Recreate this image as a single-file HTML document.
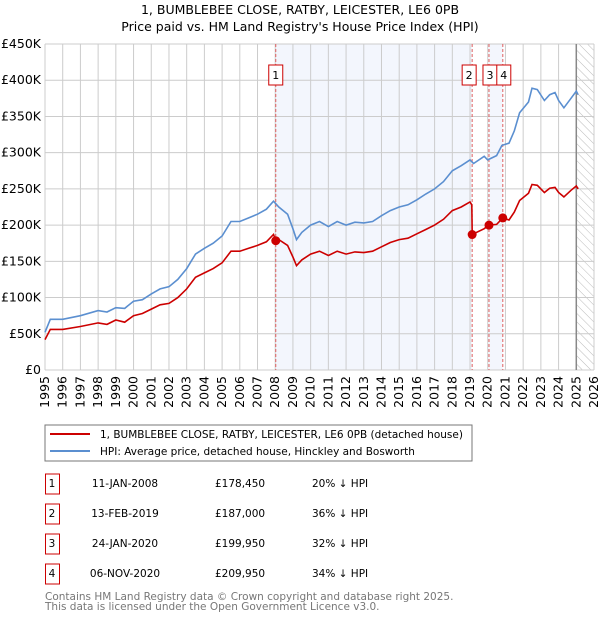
<!DOCTYPE html>
<html><head><meta charset="utf-8"><style>
body{margin:0;background:#fff;font-family:"Liberation Sans","DejaVu Sans",sans-serif;}
svg text{font-family:"DejaVu Sans","Liberation Sans",sans-serif;}
</style></head><body>
<svg id="c" width="600" height="620" xmlns="http://www.w3.org/2000/svg">
<defs><pattern id="hatch" width="6" height="6" patternUnits="userSpaceOnUse" patternTransform="rotate(-45)"><line x1="0" y1="0" x2="0" y2="6" stroke="#bbb" stroke-width="1"/></pattern></defs>
<text x="300" y="14" text-anchor="middle" font-size="12.5" fill="#000">1, BUMBLEBEE CLOSE, RATBY, LEICESTER, LE6 0PB</text>
<text x="300" y="31" text-anchor="middle" font-size="12.5" fill="#000">Price paid vs. HM Land Registry's House Price Index (HPI)</text>
<g id="plot"></g>
<rect x="45" y="425" width="427" height="36" fill="#fff" stroke="#777"/>
<line x1="50" y1="434" x2="90" y2="434" stroke="#cc0000" stroke-width="2"/>
<text x="100" y="438" font-size="10.5">1, BUMBLEBEE CLOSE, RATBY, LEICESTER, LE6 0PB (detached house)</text>
<line x1="50" y1="451" x2="90" y2="451" stroke="#5b8fd0" stroke-width="2"/>
<text x="100" y="455" font-size="10.5">HPI: Average price, detached house, Hinckley and Bosworth</text>
<g id="tbl" font-size="10.5"></g>
<text x="45" y="600" font-size="10.5" fill="#777">Contains HM Land Registry data © Crown copyright and database right 2025.</text>
<text x="45" y="610" font-size="10.5" fill="#777">This data is licensed under the Open Government Licence v3.0.</text>
</svg>
<script>
const hpiYears=[1995.0,1995.3,1996,1997,1998,1998.5,1999,1999.5,2000,2000.5,2001,2001.5,2002,2002.5,2003,2003.5,2004,2004.5,2005,2005.5,2006,2006.5,2007,2007.5,2007.9,2008.2,2008.7,2009.0,2009.2,2009.5,2010,2010.5,2011,2011.5,2012,2012.5,2013,2013.5,2014,2014.5,2015,2015.5,2016,2016.5,2017,2017.5,2018,2018.5,2019,2019.2,2019.8,2020.0,2020.5,2020.8,2021.2,2021.5,2021.8,2022.3,2022.5,2022.8,2023.2,2023.5,2023.8,2024.0,2024.3,2024.7,2025.0,2025.1];
const hpiValues=[52,70,70,75,82,80,86,85,95,97,105,112,115,125,140,160,168,175,185,205,205,210,215,222,233,225,215,195,180,190,200,205,198,205,200,204,203,205,213,220,225,228,235,243,250,260,275,282,290,285,295,290,296,310,313,330,355,370,389,387,372,380,383,372,362,375,385,380];
const priceYears=[1995.0,1995.3,1996,1997,1998,1998.5,1999,1999.5,2000,2000.5,2001,2001.5,2002,2002.5,2003,2003.5,2004,2004.5,2005,2005.5,2006,2006.5,2007,2007.5,2007.9,2008.03,2008.2,2008.7,2009.0,2009.2,2009.5,2010,2010.5,2011,2011.5,2012,2012.5,2013,2013.5,2014,2014.5,2015,2015.5,2016,2016.5,2017,2017.5,2018,2018.5,2019.0,2019.1,2019.12,2019.8,2020.07,2020.5,2020.85,2021.2,2021.5,2021.8,2022.3,2022.5,2022.8,2023.2,2023.5,2023.8,2024.0,2024.3,2024.7,2025.0,2025.1];
const priceValues=[42,56,56,60,65,63,69,66,75,78,84,90,92,100,112,128,134,140,148,164,164,168,172,177,187,178.45,180,172,156,144,152,160,164,158,164,160,163,162,164,170,176,180,182,188,194,200,208,220,225,232,228,187,195,199.95,201,209.95,207,218,234,244,256,255,245,251,252,245,239,248,254,250];
const saleYears=[2008.03,2019.12,2020.07,2020.85];
const saleValues=[178.45,187,199.95,209.95];
const saleLabels=["1","2","3","4"];
const saleDates=["11-JAN-2008","13-FEB-2019","24-JAN-2020","06-NOV-2020"];
const salePrices=["£178,450","£187,000","£199,950","£209,950"];
const saleDiffs=["20% ↓ HPI","36% ↓ HPI","32% ↓ HPI","34% ↓ HPI"];
const yTicks=[0,50,100,150,200,250,300,350,400,450];
const xTicks=[1995,1996,1997,1998,1999,2000,2001,2002,2003,2004,2005,2006,2007,2008,2009,2010,2011,2012,2013,2014,2015,2016,2017,2018,2019,2020,2021,2022,2023,2024,2025,2026];
const L=45,R=594,T=44,B=370;
const X=y=>L+(y-1995)/31*(R-L);
const Y=v=>B-v/450*(B-T);
const NS="http://www.w3.org/2000/svg";
const g=document.getElementById('plot');
function mk(t,a,p){const e=document.createElementNS(NS,t);for(const k in a)e.setAttribute(k,a[k]);(p||g).appendChild(e);return e;}
let s1=mk('rect',{x:X(saleYears[0]),y:T,width:X(saleYears[1])-X(saleYears[0]),height:B-T,fill:'#f3f6fd'});


let s2=mk('rect',{x:X(saleYears[2]),y:T,width:X(saleYears[3])-X(saleYears[2]),height:B-T,fill:'#f3f6fd'});


let hz=mk('rect',{x:X(2025),y:T,width:R-X(2025),height:B-T,fill:'url(#hatch)'});


yTicks.forEach(v=>{
 let l=mk('line',{x1:L,x2:R,y1:Y(v),y2:Y(v),stroke:'#ccc','stroke-width':1});
 
 
 let t=mk('text',{x:L-4,y:Y(v)+4,'text-anchor':'end','font-size':12.5,fill:'#000'});
 t.textContent=v===0?'£0':'£'+v+'K';
 
 
});
xTicks.forEach(y=>{
 let l=mk('line',{x1:X(y),x2:X(y),y1:T,y2:B,stroke:'#ccc','stroke-width':1});
 
 
 let t=mk('text',{x:0,y:0,'text-anchor':'end','font-size':12.5,fill:'#000',transform:`translate(${X(y)+4},${B+6}) rotate(-90)`});
 t.textContent=y;
 
 
});
let bl=mk('line',{x1:X(2025),x2:X(2025),y1:T,y2:B,stroke:'#888','stroke-width':1.5});


saleYears.forEach((y,i)=>{
 let l=mk('line',{x1:X(y),x2:X(y),y1:T,y2:B,stroke:'#e06060','stroke-width':1,'stroke-dasharray':'3,2'});
 
 
});
const pts=(xs,vs)=>xs.map((x,i)=>X(x).toFixed(1)+','+Y(vs[i]).toFixed(1)).join(' ');
let hl=mk('polyline',{points:pts(hpiYears,hpiValues),fill:'none',stroke:'#5b8fd0','stroke-width':1.6});


let pl=mk('polyline',{points:pts(priceYears,priceValues),fill:'none',stroke:'#cc0000','stroke-width':1.6});


saleYears.forEach((y,i)=>{
 let c=mk('circle',{cx:X(y),cy:Y(saleValues[i]),r:4.5,fill:'#cc0000'});
 
 
});
const bx=[X(saleYears[0])-7,X(saleYears[1])-10,X(saleYears[2])-6,X(saleYears[3])-6];
saleYears.forEach((y,i)=>{
 let r=mk('rect',{x:bx[i],y:65,width:14,height:20,fill:'#fff',stroke:'#cc0000','stroke-width':1});
 
 
 let t=mk('text',{x:bx[i]+7,y:79,'text-anchor':'middle','font-size':11});
 t.textContent=saleLabels[i];
 
 
});
const tb=document.getElementById('tbl');
saleLabels.forEach((lab,i)=>{
 const cy=483+i*30;
 let r=mk('rect',{x:45.5,y:cy-9,width:14,height:20,fill:'#fff',stroke:'#cc0000'},tb);
 
 
 const cells=[[52,lab,'middle'],[125,saleDates[i],'middle'],[215,salePrices[i],'start'],[312,saleDiffs[i],'start']];
 const nm=['table-index','table-date','table-price','table-hpi-diff'];
 cells.forEach((c,j)=>{
  let t=mk('text',{x:c[0],y:cy+4,'text-anchor':c[2]},tb);
  t.textContent=c[1];
  
  
 });
});
</script>
</body></html>
